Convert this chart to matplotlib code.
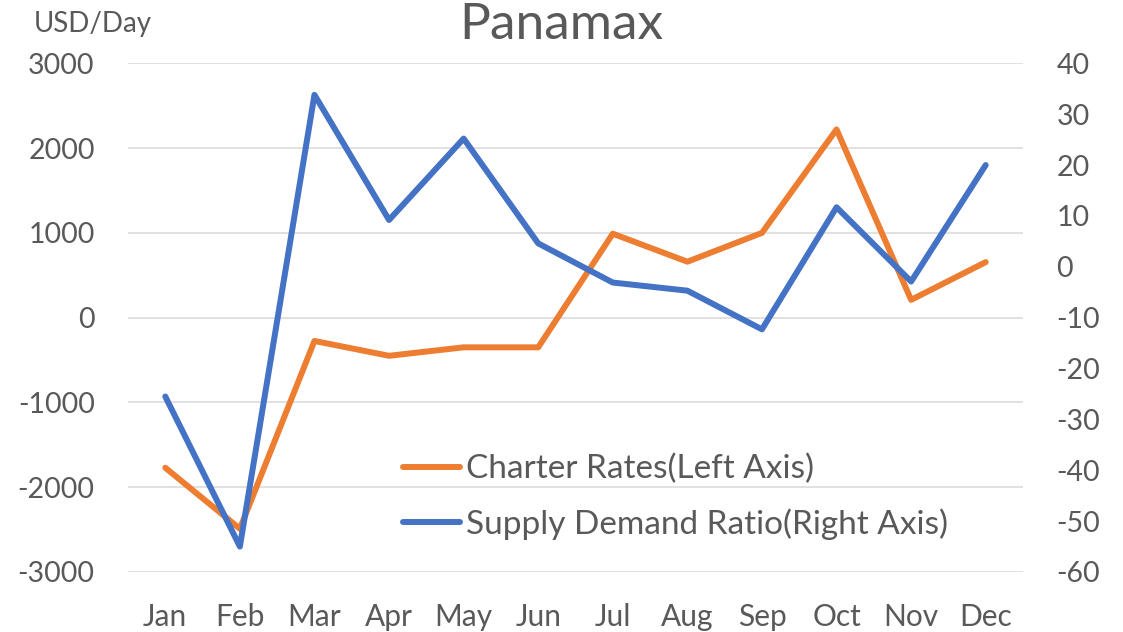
import matplotlib
matplotlib.use("Agg")
import matplotlib.pyplot as plt

# values
months = ["Jan", "Feb", "Mar", "Apr", "May", "Jun",
          "Jul", "Aug", "Sep", "Oct", "Nov", "Dec"]
charter_rates = [-1770, -2490, -275, -450, -350, -350,
                 990, 660, 1000, 2220, 210, 655]
supply_demand = [-25.5, -55.0, 33.8, 9.2, 25.2, 4.6,
                 -3.1, -4.7, -12.3, 11.7, -2.9, 20.0]
left_ticks = [-3000, -2000, -1000, 0, 1000, 2000, 3000]
right_ticks = [-60, -50, -40, -30, -20, -10, 0, 10, 20, 30, 40]

plt.rcParams['font.family'] = ['Lato', 'DejaVu Sans']
plt.rcParams['axes.unicode_minus'] = False
grey = '#595959'
fs = 20.5

fig = plt.figure(figsize=(11.23, 6.32), dpi=100)
ax = fig.add_axes([128 / 1123, 1 - 572 / 632, (1023 - 128) / 1123, (572 - 63.3) / 632])
ax2 = ax.twinx()

x = list(range(len(months)))
l1, = ax.plot(x, charter_rates, color='#ED7D31', lw=4.3,
              solid_capstyle='round', solid_joinstyle='round',
              label='Charter Rates(Left Axis)')
l2, = ax2.plot(x, supply_demand, color='#4472C4', lw=4.3,
               solid_capstyle='round', solid_joinstyle='round',
               label='Supply Demand Ratio(Right Axis)')

ax.set_xlim(-0.5, 11.5)
ax.set_ylim(-3000, 3000)
ax2.set_ylim(-60, 40)
ax.set_yticks(left_ticks)
ax2.set_yticks(right_ticks)
ax.set_xticks(x)
ax.set_xticklabels(months)

ax.grid(axis='y', color='#D9D9D9', lw=1.1)
ax.set_axisbelow(True)
for a in (ax, ax2):
    for s in a.spines.values():
        s.set_visible(False)
ax.tick_params(axis='y', length=0, pad=24, labelsize=fs, labelcolor=grey)
ax.tick_params(axis='x', length=0, pad=22, labelsize=21.5, labelcolor=grey)
ax2.tick_params(axis='y', length=0, pad=24, labelsize=fs, labelcolor=grey)

fig.text(561 / 1123, 1 - 39 / 632, 'Panamax', ha='center', va='baseline',
         fontsize=37, color=grey)
fig.text(34 / 1123, 1 - 32 / 632, 'USD/Day', ha='left', va='baseline',
         fontsize=20, color=grey)

ax2.legend(handles=[l1, l2], loc='upper left',
           bbox_to_anchor=(403 / 1123, 1 - 454 / 632),
           bbox_transform=fig.transFigure, frameon=False,
           fontsize=24, labelcolor=grey, handlelength=1.7,
           handletextpad=0.2, borderpad=0, borderaxespad=0, labelspacing=0.72)

fig.savefig('out.png', dpi=100)
